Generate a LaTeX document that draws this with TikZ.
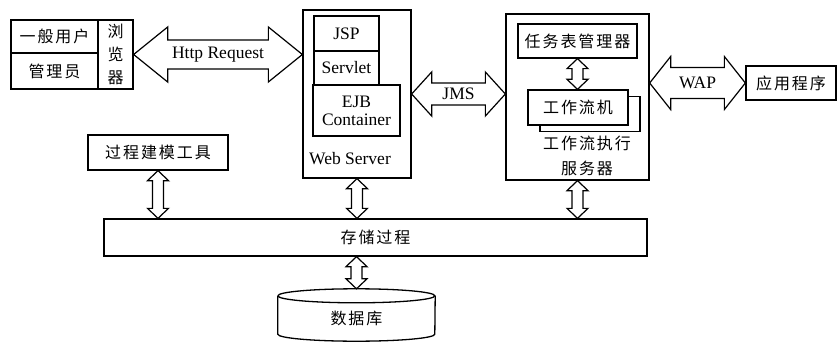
\documentclass[tikz,border=0pt]{standalone}
\usepackage{fontspec}
\setmainfont{Liberation Serif}
\newfontfamily\cjk{Noto Sans CJK SC}[LetterSpace=12]
\usetikzlibrary{calc,shadows}
\tikzset{
  box/.style={draw,fill=white,line width=1.3pt,inner sep=0pt},
  fat arrow/.style={draw,fill=white,line width=1.2pt},
  cn/.style={font=\cjk\fontsize{16}{18}\selectfont},
  en/.style={font=\fontsize{17.5}{18}\selectfont},
  every node/.style={align=center}
}
% hollow double-headed arrow: start, end, shaft half width, head half width, head length
\newcommand{\fatarrow}[5]{%
  \coordinate (fa-s) at #1;
  \coordinate (fa-e) at #2;
  \coordinate (fa-hs) at ($(fa-s)!#5!(fa-e)$);
  \coordinate (fa-he) at ($(fa-e)!#5!(fa-s)$);
  \draw[fat arrow] (fa-s)
    -- ($(fa-hs)!#4!90:(fa-e)$) -- ($(fa-hs)!#3!90:(fa-e)$)
    -- ($(fa-he)!#3!-90:(fa-s)$) -- ($(fa-he)!#4!-90:(fa-s)$)
    -- (fa-e)
    -- ($(fa-he)!#4!90:(fa-s)$) -- ($(fa-he)!#3!90:(fa-s)$)
    -- ($(fa-hs)!#3!-90:(fa-e)$) -- ($(fa-hs)!#4!-90:(fa-e)$)
    -- cycle;
}

\begin{document}
\begin{tikzpicture}[x=1pt,y=-1pt]
  \useasboundingbox (0,0) rectangle (837,342);

  % clients and browser
  \node[box,cn,minimum width=87pt,minimum height=33pt] (user) at (54.5,36.5) {一般用户};
  \node[box,cn,minimum width=87pt,minimum height=36pt] (admin) at (54.5,71) {管理员};
  \node[box,cn,minimum width=35pt,minimum height=69pt,
        font=\cjk\fontsize{16}{23}\selectfont] (browser) at (115.5,54.5) {浏\\览\\器};

  % web server
  \node[box,minimum width=108pt,minimum height=168pt] (web) at (357,94) {};
  \node[box,en,minimum width=65pt,minimum height=35pt] (jsp) at (346.5,33.5) {JSP};
  \node[box,en,minimum width=65pt,minimum height=34pt] (servlet) at (346.5,68) {Servlet};
  \node[box,en,minimum width=87pt,minimum height=51pt] (ejb) at (356.5,110.5) {EJB\\Container};
  \node[en] (weblabel) at (350,159) {Web Server};

  % workflow execution server
  \node[box,minimum width=143pt,minimum height=166pt] (wf) at (577.5,97) {};
  \node[box,cn,minimum width=119pt,minimum height=34pt] (task) at (577.5,41) {任务表管理器};
  \node[box,cn,minimum width=100pt,minimum height=35pt,
        copy shadow={shadow xshift=12pt,shadow yshift=-6.5pt,draw,fill=white,line width=1.3pt}]
        (engine) at (578,107.5) {工作流机};
  \node[cn,font=\cjk\fontsize{16}{25}\selectfont] (wflabel) at (587,155.5) {工作流执行\\服务器};

  \node[box,cn,minimum width=90pt,minimum height=34pt] (app) at (791,83) {应用程序};
  \node[box,cn,minimum width=140pt,minimum height=35pt] (tool) at (158,152.5) {过程建模工具};
  \node[box,cn,minimum width=543pt,minimum height=37pt] (store) at (375.5,237.5) {存储过程};

  % database cylinder
  \node[cn,minimum width=157pt,minimum height=45pt,inner sep=0pt] (db) at (356.5,318.5) {数据库};
  \draw[line width=1.3pt] (db.north west)
    arc[start angle=180,end angle=540,x radius=78.5pt,y radius=7pt];
  \draw[line width=1.3pt] (db.north west) -- ([yshift=7pt]db.south west)
    arc[start angle=180,end angle=360,x radius=78.5pt,y radius=7pt]
    -- (db.north east);

  % horizontal links
  \fatarrow{(browser.east)}{(browser.east -| web.west)}{14.5pt}{27.5pt}{34pt}
  \node[en] (http) at ($(fa-s)!0.5!(fa-e)$) {Http Request};
  \fatarrow{(web.east)}{(web.east -| wf.west)}{11pt}{22pt}{20pt}
  \node[en] (jms) at ($(fa-s)!0.5!(fa-e)$) {JMS};
  \fatarrow{(app.west -| wf.east)}{(app.west)}{15.5pt}{26.5pt}{21pt}
  \node[en] (wap) at ($(fa-s)!0.5!(fa-e)$) {WAP};

  % vertical links
  \fatarrow{(task.south)}{(task.south |- engine.north)}{5.5pt}{10.5pt}{10pt}
  \fatarrow{(tool.south)}{(tool.south |- store.north)}{5.5pt}{10.5pt}{10pt}
  \fatarrow{(web.south)}{(web.south |- store.north)}{5.5pt}{10.5pt}{10pt}
  \fatarrow{(wf.south)}{(wf.south |- store.north)}{5.5pt}{10.5pt}{10pt}
  \fatarrow{(db.north |- store.south)}{([yshift=7pt]db.north)}{5.5pt}{10.5pt}{10pt}
\end{tikzpicture}
\end{document}
